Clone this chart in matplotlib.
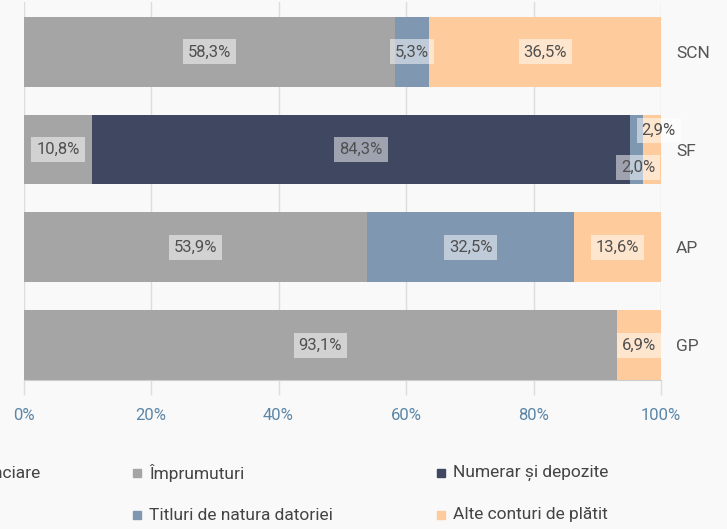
import numpy as np
import matplotlib.pyplot as plt
from matplotlib.patches import Rectangle

plt.rcParams['font.family'] = ['Roboto', 'DejaVu Sans']

sectors = ['SCN', 'SF', 'AP', 'GP']
imprumuturi = [58.3, 10.8, 53.9, 93.1]
numerar = [0.0, 84.3, 0.0, 0.0]
titluri = [5.3, 2.0, 32.5, 0.0]
alte = [36.5, 2.9, 13.6, 6.9]
series_names = ['Împrumuturi', 'Numerar și depozite', 'Titluri de natura datoriei', 'Alte conturi de plătit']
cut_legend = 'Derivate financiare'
xticks = [0, 20, 40, 60, 80, 100]

colors = ['#a5a5a5', '#404760', '#8097b1', '#fdcb9c']
bg = '#f9f9f9'

W, H = 727, 529
fig = plt.figure(figsize=(W / 100, H / 100), dpi=100, facecolor=bg)
ax = fig.add_axes([23.5 / W, 1 - 380 / H, (661 - 23.5) / W, (380 - 2) / H])
ax.set_facecolor(bg)

y = np.arange(len(sectors))
series = [imprumuturi, numerar, titluri, alte]
left = np.zeros(len(sectors))
for vals, col in zip(series, colors):
    ax.barh(y, vals, left=left, height=0.714, color=col, zorder=2)
    for i, v in enumerate(vals):
        if v <= 0:
            continue
        cx = left[i] + v / 2
        off = (0, 0)
        if sectors[i] == 'SF' and v == 2.9:
            off = (5, 14)
        elif sectors[i] == 'SF' and v == 2.0:
            off = (1.5, -13)
        ax.annotate(f'{v:.1f}%'.replace('.', ','), (cx, y[i]), xytext=off,
                    textcoords='offset points', ha='center', va='center',
                    fontsize=12, color='#505050', zorder=5,
                    bbox=dict(boxstyle='square,pad=0.3', fc='white', ec='none', alpha=0.5))
    left += np.array(vals)

ax.set_xlim(0, 100)
ax.set_ylim(3.357, -0.51)
ax.set_xticks(xticks)
ax.set_xticklabels([f'{t}%' for t in xticks], fontsize=12, color='#5a86a8')
ax.tick_params(axis='x', length=11, color='#dddddd', width=1, pad=9)
ax.grid(axis='x', color='#dddddd', lw=1, zorder=0)
ax.set_axisbelow(True)

ax.yaxis.tick_right()
ax.set_yticks(y)
ax.set_yticklabels(sectors, fontsize=12.5, color='#555555')
ax.tick_params(axis='y', length=0, pad=11)
for s in ['top', 'left', 'right']:
    ax.spines[s].set_visible(False)
ax.spines['bottom'].set_color('#cccccc')
ax.spines['bottom'].set_zorder(3)

# legend drawn by hand, partly cropped on the left like the reference
fig.text(40 / W, 1 - 473 / H, cut_legend, ha='right', va='center', fontsize=12.5, color='#444444')
legend_pos = [(137, 473), (441, 473), (137, 515), (441, 515)]
for k, (px, py) in enumerate(legend_pos):
    fig.patches.append(Rectangle(((px - 4) / W, 1 - (py + 4) / H), 8 / W, 8 / H,
                                 transform=fig.transFigure, color=colors[k]))
    fig.text((px + 12) / W, 1 - py / H, series_names[k], ha='left', va='center',
             fontsize=12.5, color='#444444')

fig.savefig('out.png', dpi=100, facecolor=bg)
